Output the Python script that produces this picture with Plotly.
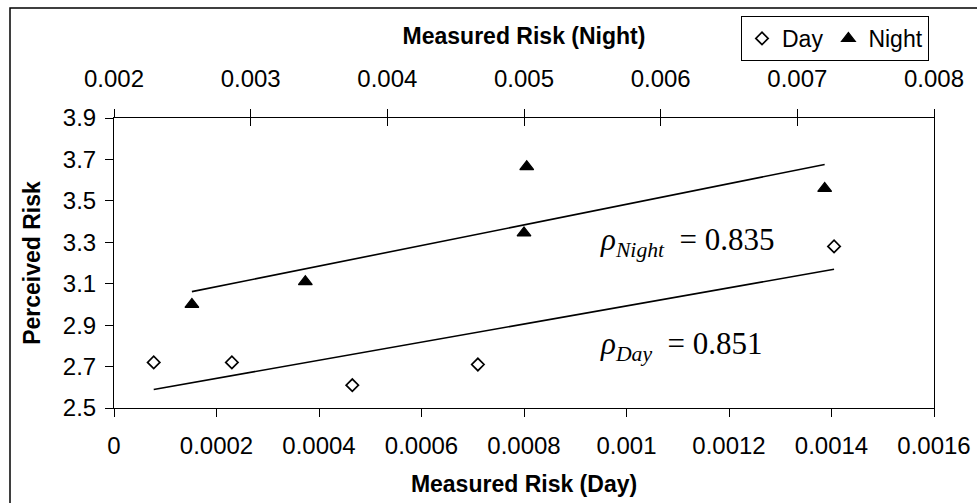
import numpy as np
import plotly.graph_objects as go

# ---- data ----
day_x = [0.0000775, 0.00023, 0.000465, 0.00071, 0.001405]
day_y = [2.72, 2.72, 2.61, 2.71, 3.28]
night_x = [0.00257, 0.00340, 0.00502, 0.00500, 0.00720]
night_y = [3.00, 3.11, 3.665, 3.345, 3.56]

day_ticks = [0, 0.0002, 0.0004, 0.0006, 0.0008, 0.001, 0.0012, 0.0014, 0.0016]
day_ticktext = ["0", "0.0002", "0.0004", "0.0006", "0.0008", "0.001", "0.0012", "0.0014", "0.0016"]
night_ticks = [0.002, 0.003, 0.004, 0.005, 0.006, 0.007, 0.008]
night_ticktext = ["0.002", "0.003", "0.004", "0.005", "0.006", "0.007", "0.008"]
y_ticks = [2.5, 2.7, 2.9, 3.1, 3.3, 3.5, 3.7, 3.9]
y_ticktext = ["2.5", "2.7", "2.9", "3.1", "3.3", "3.5", "3.7", "3.9"]

rho_night_label = "<i>ρ</i><sub><i>Night</i></sub>&nbsp;&nbsp;=&nbsp;0.835"
rho_day_label = "<i>ρ</i><sub><i>Day</i></sub>&nbsp;&nbsp;=&nbsp;0.851"

# ---- linear trendlines ----
def trend(xs, ys):
    xs = np.asarray(xs); ys = np.asarray(ys)
    k, b = np.polyfit(xs, ys, 1)
    xe = np.array([xs.min(), xs.max()])
    return xe, k * xe + b

dtx, dty = trend(day_x, day_y)
ntx, nty = trend(night_x, night_y)

SANS = "Liberation Sans, Arial, sans-serif"
SERIF = "Liberation Serif, Times New Roman, serif"

fig = go.Figure()
fig.add_trace(go.Scatter(x=dtx, y=dty, mode="lines", line=dict(color="black", width=1.6),
                         showlegend=False, hoverinfo="skip"))
fig.add_trace(go.Scatter(x=ntx, y=nty, mode="lines", xaxis="x2", line=dict(color="black", width=1.6),
                         showlegend=False, hoverinfo="skip"))
fig.add_trace(go.Scatter(x=day_x, y=day_y, mode="markers", name="Day",
                         marker=dict(symbol="diamond-open", size=9.5, color="black", line=dict(width=1.7, color="black"))))
fig.add_trace(go.Scatter(x=night_x, y=night_y, mode="markers", name="Night", xaxis="x2",
                         marker=dict(symbol="triangle-up", size=12, color="black", line=dict(width=1.2, color="black"))))
# invisible trace to bind the inner-tick overlay axis
fig.add_trace(go.Scatter(x=[], y=[], xaxis="x3", showlegend=False, hoverinfo="skip"))

axis_common = dict(showgrid=False, zeroline=False, showline=True, linecolor="black", linewidth=1,
                   tickcolor="black", ticklen=8, tickwidth=1, automargin=False,
                   tickfont=dict(family=SANS, size=24, color="black"))

fig.update_layout(
    width=977, height=503, autosize=False,
    margin=dict(l=114, r=43, t=118, b=95),
    paper_bgcolor="white", plot_bgcolor="white",
    font=dict(family=SANS, color="black"),
    xaxis=dict(range=[0, 0.0016], tickvals=day_ticks, ticktext=day_ticktext, ticks="outside",
               ticklabelstandoff=8,
               title=dict(text="<b>Measured Risk (Day)</b>", font=dict(family=SANS, size=23), standoff=18),
               **axis_common),
    xaxis2=dict(range=[0.002, 0.008], tickvals=night_ticks, ticktext=night_ticktext, ticks="outside",
                overlaying="x", side="top", anchor="y", ticklabelstandoff=12,
                title=dict(text="<b>Measured Risk (Night)</b>", font=dict(family=SANS, size=23), standoff=14),
                **axis_common),
    xaxis3=dict(range=[0.002, 0.008], tickvals=night_ticks, ticks="inside", showticklabels=False,
                overlaying="x", side="top", anchor="y", automargin=False,
                showgrid=False, zeroline=False, showline=False, tickcolor="black", ticklen=8, tickwidth=1),
    yaxis=dict(range=[2.5, 3.9], tickvals=y_ticks, ticktext=y_ticktext, ticks="outside", mirror=True,
               ticklabelstandoff=4,
               title=dict(text="<b>Perceived Risk</b>", font=dict(family=SANS, size=23), standoff=15),
               **axis_common),
    legend=dict(orientation="h", x=(741 - 114) / 820, y=(408 - 16) / 290, xanchor="left", yanchor="top",
                bgcolor="white", bordercolor="black", borderwidth=1,
                font=dict(family=SANS, size=23, color="black"), itemwidth=30, tracegroupgap=0),
    showlegend=True,
)

fig.add_annotation(x=0.000944, y=3.30, xref="x", yref="y", text=rho_night_label, showarrow=False,
                   xanchor="left", yanchor="middle", font=dict(family=SERIF, size=31, color="black"))
fig.add_annotation(x=0.000944, y=2.80, xref="x", yref="y", text=rho_day_label, showarrow=False,
                   xanchor="left", yanchor="middle", font=dict(family=SERIF, size=31, color="black"))

# outer chart-area border (cut off at right and bottom in the reference)
fig.add_shape(type="rect", xref="paper", yref="paper",
              x0=(10 - 114) / 820, x1=(990 - 114) / 820, y0=(408 - 520) / 290, y1=(408 - 8) / 290,
              line=dict(color="black", width=1.5), fillcolor="rgba(0,0,0,0)", layer="below")

fig.write_html("out.html", config={"displayModeBar": False},
               post_script="document.body.style.margin='0';")
